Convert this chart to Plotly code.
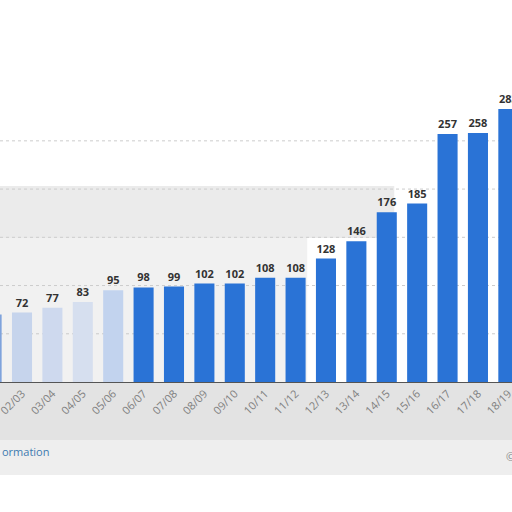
import plotly.graph_objects as go

# seasons shown on the x axis (the first one is cut off at the left edge)
seasons = ['01/02', '02/03', '03/04', '04/05', '05/06', '06/07', '07/08', '08/09', '09/10',
           '10/11', '11/12', '12/13', '13/14', '14/15', '15/16', '16/17', '17/18', '18/19']
values = [70, 72, 77, 83, 95, 98, 99, 102, 102, 108, 108, 128, 146, 176, 185, 257, 258, 283]
# the left bars look washed out in the picture
bar_colors = ['#7fa3dc', '#c6d4ec', '#ced9ee', '#d6dfef', '#c2d3ee'] + ['#2a73d6'] * 13
grid_values = [50, 100, 150, 200, 250]

fig = go.Figure()

fig.add_trace(go.Bar(
    x=seasons,
    y=values,
    marker=dict(color=bar_colors, line=dict(width=0)),
    text=[str(v) for v in values],
    textposition='outside',
    textfont=dict(family='Open Sans', size=11, color='#333333', weight='bold'),
    constraintext='none',
    cliponaxis=False,
))

# greyish haze in the background
haze = [
    dict(x0=0, x1=0.77, y0=(382 - 238) / 382, y1=(382 - 186) / 382, c='#ebebeb'),
    dict(x0=0, x1=0.6, y0=0, y1=(382 - 238) / 382, c='#f1f1f1'),
    dict(x0=0, x1=1, y0=(382 - 440) / 382, y1=0, c='#e3e3e3'),
    dict(x0=0, x1=1, y0=(382 - 475) / 382, y1=(382 - 440) / 382, c='#eeeeee'),
]
for h in haze:
    fig.add_shape(type='rect', xref='paper', yref='paper', x0=h['x0'], x1=h['x1'],
                  y0=h['y0'], y1=h['y1'], fillcolor=h['c'], line=dict(width=0), layer='below')

# faint dotted grid lines
for g in grid_values:
    fig.add_shape(type='line', xref='paper', yref='y', x0=0, x1=1, y0=g, y1=g,
                  line=dict(color='#cccccc', width=1, dash='dot'), layer='below')

fig.add_annotation(text='ormation', xref='paper', yref='paper', x=0, y=(382 - 451) / 382,
                   xanchor='left', yanchor='middle', showarrow=False,
                   font=dict(family='Open Sans', size=11, color='#3d7bb0'))
fig.add_annotation(text='©', xref='paper', yref='paper', x=504 / 512, y=(382 - 456) / 382,
                   xanchor='left', yanchor='middle', showarrow=False,
                   font=dict(family='Open Sans', size=11, color='#888888'))

fig.update_layout(
    width=512,
    height=512,
    margin=dict(l=0, r=0, t=0, b=130),
    paper_bgcolor='white',
    plot_bgcolor='white',
    showlegend=False,
    bargap=0.34,
)
fig.update_xaxes(
    range=[0.276, 17.12],
    tickangle=-45,
    tickfont=dict(family='Open Sans', size=11, color='#808080'),
    showline=True,
    linecolor='#555555',
    linewidth=1,
    ticks='',
    showgrid=False,
    automargin=False,
)
fig.update_yaxes(
    range=[0, 396],
    showticklabels=False,
    showgrid=False,
    zeroline=False,
    automargin=False,
)

fig.write_html('out.html', config={'displayModeBar': False},
               post_script="document.body.style.margin='0';")
